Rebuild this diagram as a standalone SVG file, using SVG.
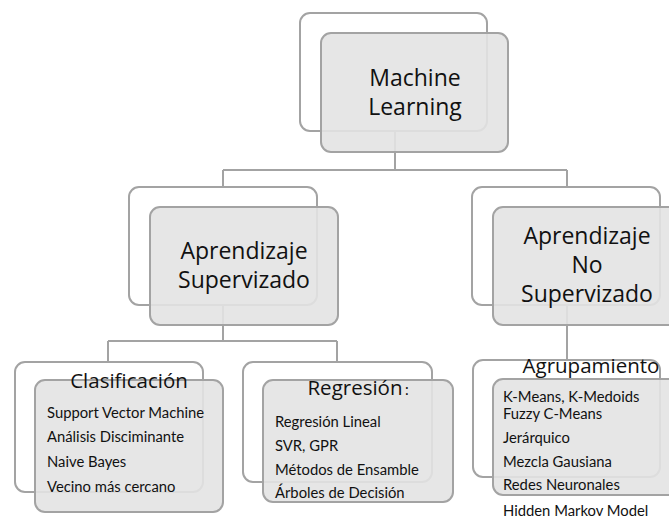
<svg xmlns="http://www.w3.org/2000/svg" width="669" height="521" viewBox="0 0 669 521">
<style>
.outer{fill:#ffffff;stroke:#a3a3a3;stroke-width:2}
.inner{fill:#e3e3e3;fill-opacity:0.9;stroke:#a3a3a3;stroke-width:2}
.conn{fill:none;stroke:#a3a3a3;stroke-width:2}
.h{font-family:"Open Sans","DejaVu Sans",sans-serif;fill:#111;text-anchor:middle;font-size:23px}
.hb{font-family:"Open Sans","DejaVu Sans",sans-serif;fill:#111;text-anchor:middle;font-size:20.5px}
.it{font-family:Lato,"Open Sans",sans-serif;fill:#111;font-size:14.8px}
</style>
<rect width="669" height="521" fill="#ffffff"/>
<g id="connectors">
<path class="conn" d="M395,131 V170 M223,170 H567 M223,170 V187 M567,170 V187"/>
<path class="conn" d="M223,305 V341 M108,341 H337 M108,341 V362 M337,341 V362"/>
<path class="conn" d="M567,305 V360"/>
</g>
<g id="machine-learning">
<rect class="outer" x="300" y="13" width="187" height="118" rx="10"/>
<rect class="inner" x="321" y="33" width="187" height="119" rx="10"/>
<text class="h" x="415" y="86">Machine</text>
<text class="h" x="415" y="115">Learning</text>
</g>
<g id="supervizado">
<rect class="outer" x="129" y="187" width="188" height="118" rx="10"/>
<rect class="inner" x="150" y="207" width="188" height="118" rx="10"/>
<text class="h" x="244" y="259">Aprendizaje</text>
<text class="h" x="244" y="288">Supervizado</text>
</g>
<g id="no-supervizado">
<rect class="outer" x="472" y="187" width="188" height="118" rx="10"/>
<rect class="inner" x="493" y="207" width="188" height="118" rx="10"/>
<text class="h" x="587" y="244">Aprendizaje</text>
<text class="h" x="587" y="273">No</text>
<text class="h" x="587" y="302">Supervizado</text>
</g>
<g id="clasificacion">
<rect class="outer" x="15" y="362" width="188" height="130" rx="10"/>
<rect class="inner" x="35" y="380" width="188" height="132" rx="10"/>
<text class="hb" x="129" y="388">Clasificación</text>
<text class="it" x="47" y="418">Support Vector Machine</text>
<text class="it" x="47" y="442">Análisis Disciminante</text>
<text class="it" x="47" y="467">Naive Bayes</text>
<text class="it" x="47" y="492">Vecino más cercano</text>
</g>
<g id="regresion">
<rect class="outer" x="243" y="362" width="189" height="120" rx="10"/>
<rect class="inner" x="263" y="380" width="190" height="122" rx="10"/>
<text class="hb" x="355" y="395">Regresión</text>
<text class="it" x="405" y="395" font-size="11">:</text>
<text class="it" x="275" y="427">Regresión Lineal</text>
<text class="it" x="275" y="451">SVR, GPR</text>
<text class="it" x="275" y="475">Métodos de Ensamble</text>
<text class="it" x="275" y="498">Árboles de Decisión</text>
</g>
<g id="agrupamiento">
<rect class="outer" x="473" y="360" width="187" height="117" rx="10"/>
<rect class="inner" x="493" y="379" width="188" height="116" rx="10"/>
<text class="hb" x="591" y="373">Agrupamiento</text>
<text class="it" x="503" y="402">K-Means, K-Medoids</text>
<text class="it" x="503" y="419">Fuzzy C-Means</text>
<text class="it" x="503" y="443">Jerárquico</text>
<text class="it" x="503" y="467">Mezcla Gausiana</text>
<text class="it" x="503" y="490">Redes Neuronales</text>
<text class="it" x="503" y="516">Hidden Markov Model</text>
</g>
</svg>
